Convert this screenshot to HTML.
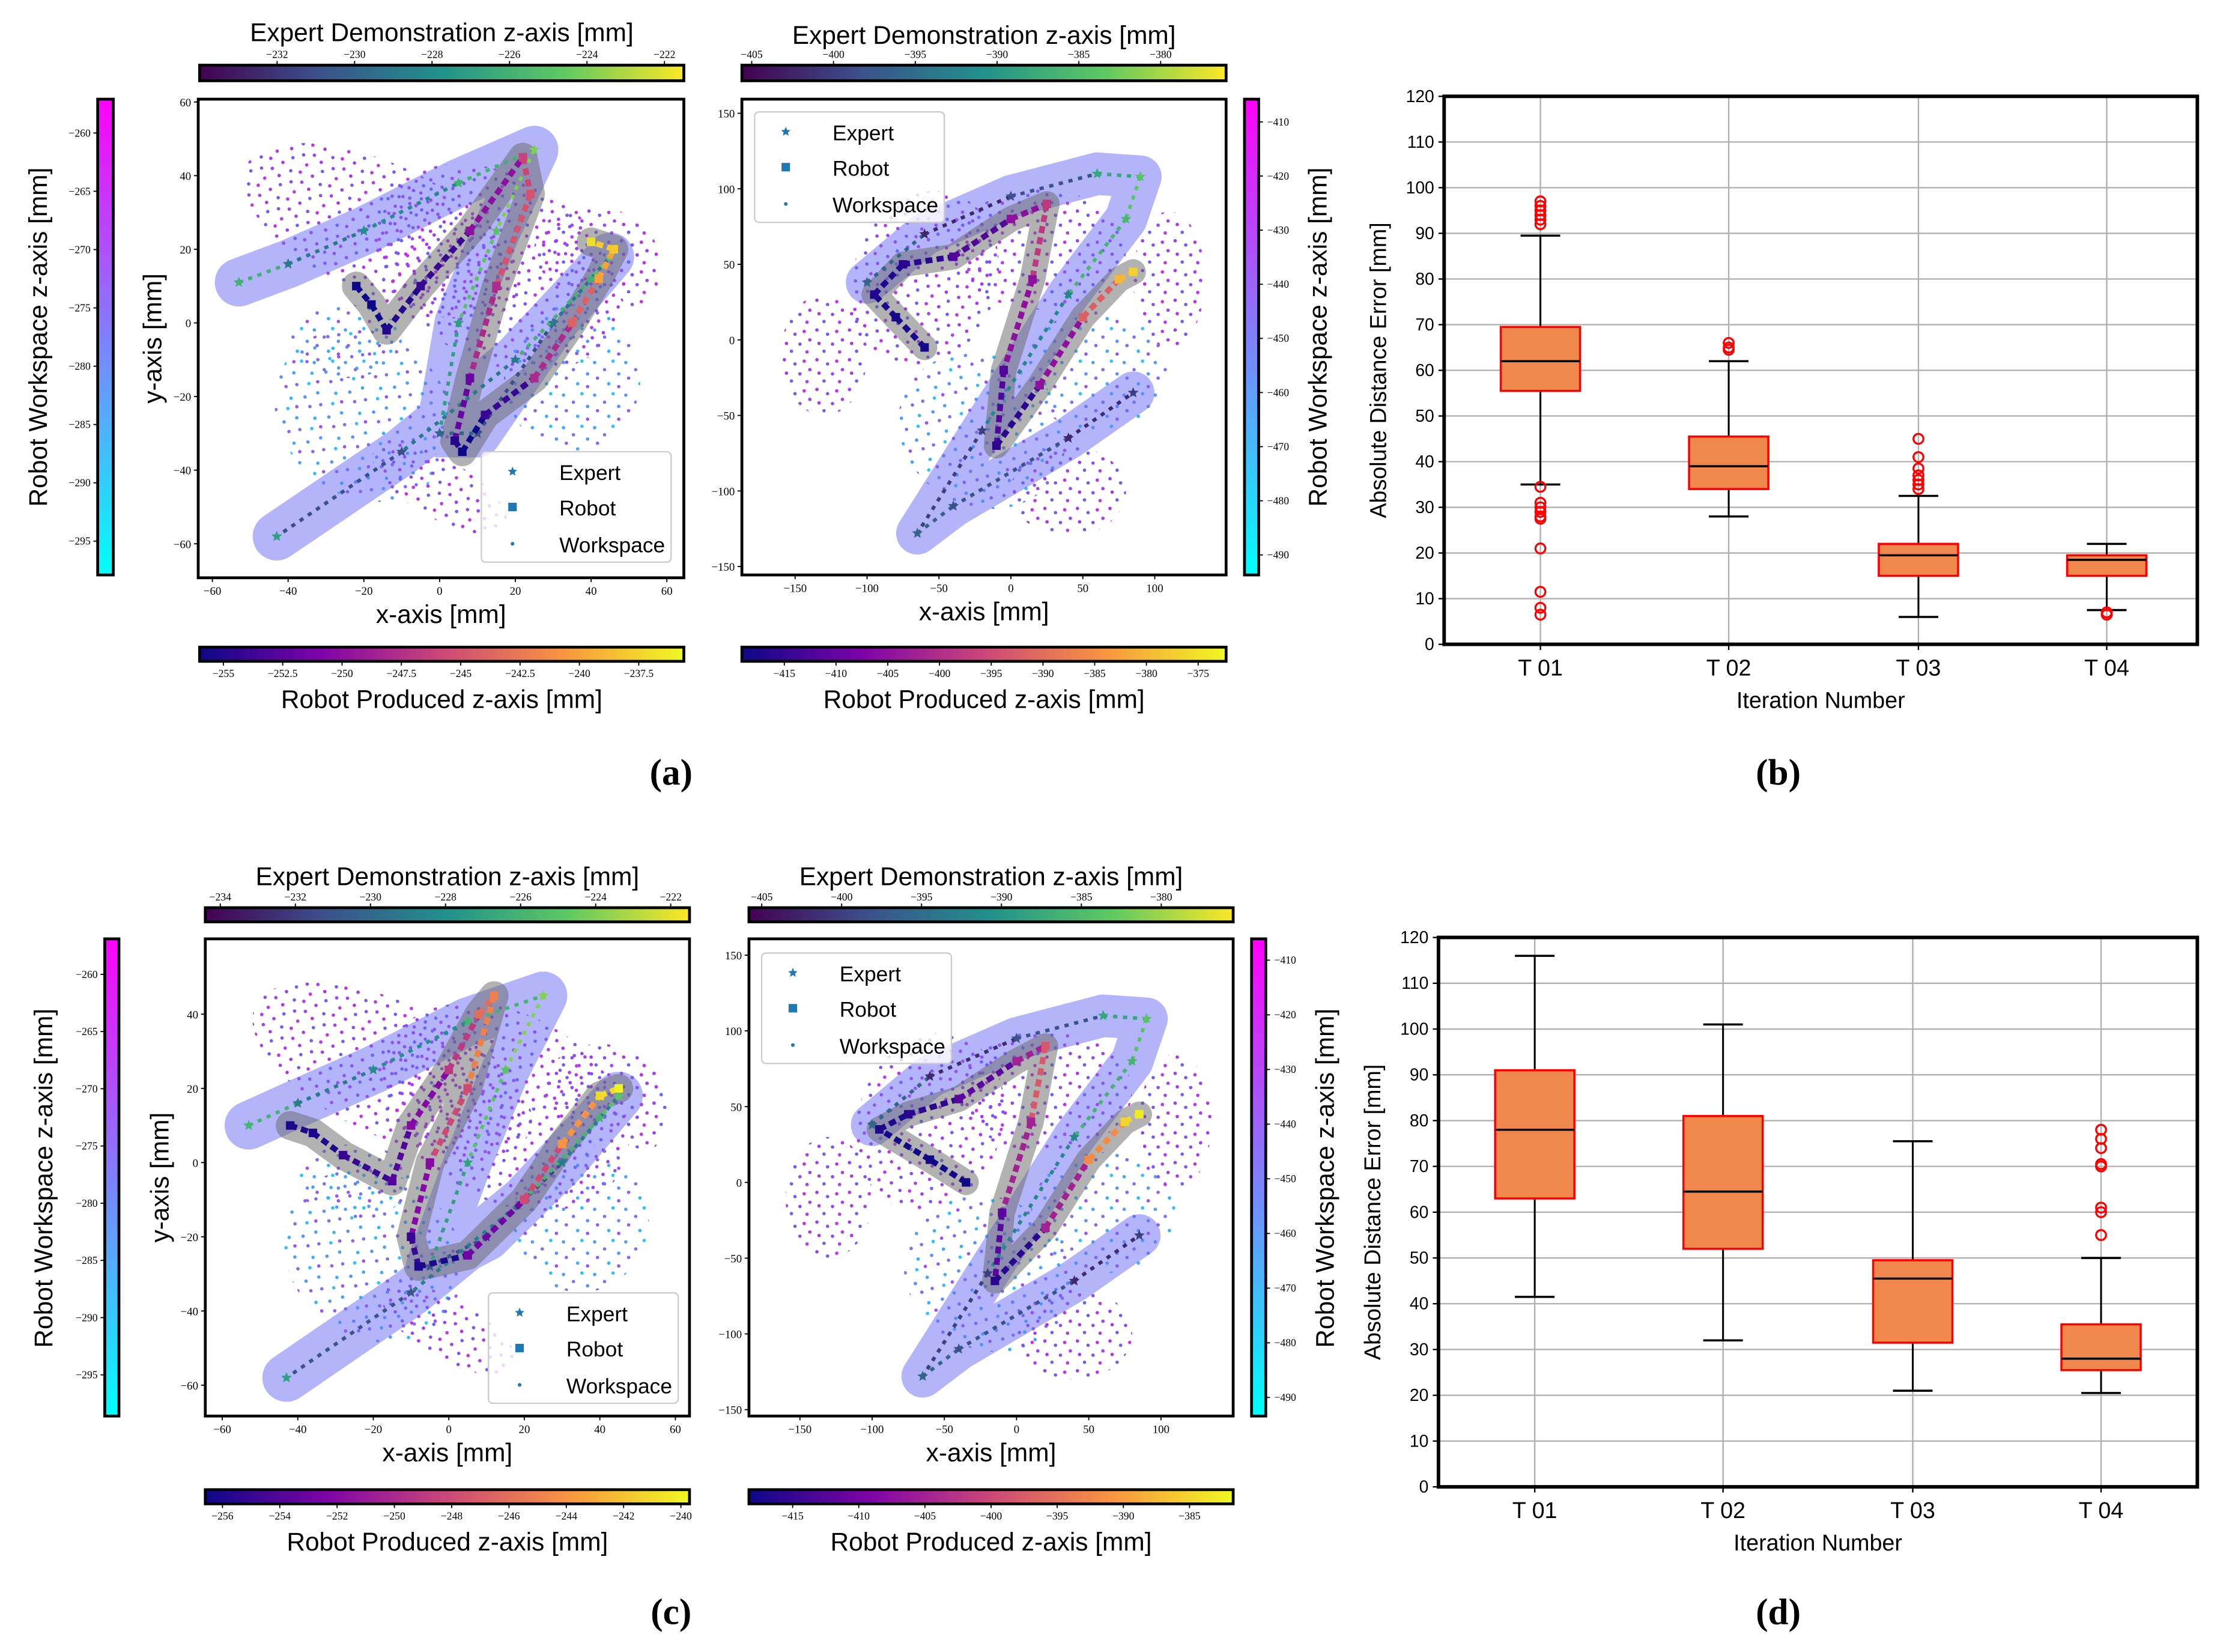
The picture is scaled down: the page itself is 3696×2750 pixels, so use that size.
<!DOCTYPE html>
<html><head><meta charset="utf-8">
<style>
html,body{margin:0;padding:0;background:#fff;}
svg{display:block;font-family:"Liberation Sans",sans-serif;}
</style></head>
<body>
<svg id="fig" xmlns="http://www.w3.org/2000/svg" width="3696" height="2750" viewBox="0 0 1568 1166.6">
<defs>
<linearGradient id="viridis" x1="0" x2="1" y1="0" y2="0">
<stop offset="0" stop-color="#440154"/><stop offset="0.25" stop-color="#3b528b"/><stop offset="0.5" stop-color="#21918c"/><stop offset="0.75" stop-color="#5ec962"/><stop offset="1" stop-color="#fde725"/></linearGradient>
<linearGradient id="plasma" x1="0" x2="1" y1="0" y2="0">
<stop offset="0" stop-color="#0d0887"/><stop offset="0.25" stop-color="#7e03a8"/><stop offset="0.5" stop-color="#cc4778"/><stop offset="0.75" stop-color="#f89540"/><stop offset="1" stop-color="#f0f921"/></linearGradient>
<linearGradient id="cool" x1="0" x2="0" y1="1" y2="0">
<stop offset="0" stop-color="#00ffff"/><stop offset="1" stop-color="#ff00ff"/></linearGradient>
<pattern id="dotsP" width="23" height="21" patternUnits="userSpaceOnUse">
<circle cx="2" cy="2" r="1.2" fill="#9d3df2"/><circle cx="9.5" cy="5" r="1.2" fill="#7a55f5"/><circle cx="3.5" cy="11.5" r="1.2" fill="#b030f0"/><circle cx="16" cy="3" r="1.2" fill="#c030f0"/><circle cx="13" cy="12" r="1.2" fill="#8a4af5"/><circle cx="20" cy="9" r="1.2" fill="#a040f0"/><circle cx="7" cy="17" r="1.2" fill="#6a60f8"/><circle cx="18" cy="17.5" r="1.2" fill="#b838f0"/></pattern>
<pattern id="dotsB" width="22" height="23" patternUnits="userSpaceOnUse">
<circle cx="2" cy="3" r="1.2" fill="#4aa0ff"/><circle cx="9" cy="8" r="1.2" fill="#7a70f5"/><circle cx="15" cy="2" r="1.2" fill="#30c0ff"/><circle cx="19" cy="11" r="1.2" fill="#5a90ff"/><circle cx="4" cy="14" r="1.2" fill="#8a60f5"/><circle cx="12" cy="18" r="1.2" fill="#38b0ff"/><circle cx="19" cy="20" r="1.2" fill="#9a50f5"/></pattern>
</defs>
<g id="root"></g>
</svg>
<script>
// ---------------- Box plot data (b) ----------------
const bCats = ['T 01','T 02','T 03','T 04'];
const bLow  = [35, 28, 6, 7.5];
const bQ1   = [55.5, 34, 15, 15];
const bMed  = [62, 39, 19.5, 18.5];
const bQ3   = [69.5, 45.5, 22, 19.5];
const bHigh = [89.5, 62, 32.5, 22];
const bFliers = [[97,96,95,94,93,92,34.5,31,30,29,28,27.5,21,11.5,8,6.5],[66,65,64.5],[45,41,38.5,37,36,35,34],[7,6.5]];
// ---------------- Box plot data (d) ----------------
const dCats = ['T 01','T 02','T 03','T 04'];
const dLow  = [41.5, 32, 21, 20.5];
const dQ1   = [63, 52, 31.5, 25.5];
const dMed  = [78, 64.5, 45.5, 28];
const dQ3   = [91, 81, 49.5, 35.5];
const dHigh = [116, 101, 75.5, 50];
const dFliers = [[],[],[],[78,76,74,70.5,70,61,60,55]];
const boxTicks = [0,10,20,30,40,50,60,70,80,90,100,110,120];
// ---------------- Scatter data ----------------
const aLExpX = [-53,-40,-20,5,25,15,5,0,10,30,45,40,20,-10,-43];
const aLExpY = [11,16,25,38,47,25,0,-30,-30,0,18,12,-10,-35,-58];
const aLExpZ = [-226,-229,-228,-226,-224,-225,-227,-230,-231,-229,-225,-226,-229,-231,-227];
const aLRobX = [-22,-18,-14,-5,8,22,24,15,8,4,6,12,25,35,42,46,40];
const aLRobY = [10,5,-2,10,25,45,35,10,-15,-32,-35,-25,-15,0,12,20,22];
const aLRobZ = [-256,-256,-255,-254,-250,-246,-245,-248,-252,-255,-256,-254,-248,-244,-240,-238,-237];
const aRExpX = [-100,-60,0,60,90,80,40,-20,-65,-40,40,85];
const aRExpY = [38,70,95,110,108,80,30,-60,-128,-110,-65,-35];
const aRExpZ = [-396,-402,-398,-388,-384,-386,-392,-400,-396,-398,-402,-400];
const aRRobX = [-60,-80,-95,-75,-40,0,25,15,-5,-10,20,50,75,85];
const aRRobY = [-5,15,30,50,55,80,90,40,-20,-70,-30,15,40,45];
const aRRobZ = [-418,-418,-417,-416,-412,-405,-398,-405,-412,-416,-405,-392,-380,-377];
const cLExpX = [-53,-40,-20,5,25,15,5,-5,10,30,45,40,20,-10,-43];
const cLExpY = [10,16,25,38,45,25,0,-28,-20,0,18,12,-10,-35,-58];
const cLExpZ = [-226,-229,-228,-226,-224,-225,-227,-231,-232,-229,-225,-226,-229,-231,-227];
const cLRobX = [-42,-36,-28,-15,-10,0,8,12,5,-5,-10,-8,5,20,30,40,45];
const cLRobY = [10,8,2,-5,10,25,40,45,20,0,-20,-28,-25,-10,5,18,20];
const cLRobZ = [-256,-256,-255,-254,-252,-249,-246,-245,-248,-252,-255,-256,-253,-248,-244,-241,-240];
const cRExpX = [-100,-60,0,60,90,80,40,-20,-65,-40,40,85];
const cRExpY = [38,70,95,110,108,80,30,-60,-128,-110,-65,-35];
const cRExpZ = [-396,-402,-398,-388,-384,-386,-392,-400,-396,-398,-402,-400];
const cRRobX = [-35,-60,-95,-75,-40,0,20,10,-10,-15,20,50,75,85];
const cRRobY = [0,15,35,45,55,80,90,40,-20,-65,-30,15,40,45];
const cRRobZ = [-418,-418,-417,-416,-412,-405,-398,-405,-412,-416,-405,-392,-385,-383];

const NS='http://www.w3.org/2000/svg';
const root=document.getElementById('root');
function mk(tag,attrs,parent){const e=document.createElementNS(NS,tag);for(const k in attrs)e.setAttribute(k,attrs[k]);(parent||root).appendChild(e);return e;}
function txt(x,y,s,size,attrs,name){const e=mk('text',Object.assign({x:x,y:y,'font-size':size,fill:'#000'},attrs||{}));e.textContent=s;


return e;}
function lerpC(stops,t){t=Math.max(0,Math.min(1,t));const n=stops.length-1;const i=Math.min(n-1,Math.floor(t*n));const f=t*n-i;const a=stops[i],b=stops[i+1];
return 'rgb('+[0,1,2].map(k=>Math.round(a[k]+(b[k]-a[k])*f)).join(',')+')';}
const VIR=[[68,1,84],[59,82,139],[33,145,140],[94,201,98],[253,231,37]];
const PLA=[[13,8,135],[126,3,168],[204,71,120],[248,149,64],[240,249,33]];

function colorbar(x,y,w,h,grad,vmin,vmax,ticks,orient,tickSide,name){
  const g=mk('g',{});
  
  
  const r=mk('rect',{x:x,y:y,width:w,height:h,fill:'url(#'+grad+')',stroke:'#000','stroke-width':2},g);
  
  
  ticks.forEach(v=>{
    if(orient==='h'){const px=x+(v-vmin)/(vmax-vmin)*w;
      const ty=tickSide==='top'?y:y+h;
      mk('line',{x1:px,x2:px,y1:ty,y2:tickSide==='top'?ty-3:ty+3,stroke:'#000','stroke-width':0.8},g);
      txt(px,tickSide==='top'?ty-5:ty+11,'\u2212'+Math.abs(v),7.5,{'text-anchor':'middle','font-family':'Liberation Serif'},name+'-tick');
    } else {const py=y+(vmax-v)/(vmax-vmin)*h;
      const tx=tickSide==='left'?x:x+w;
      mk('line',{x1:tx,x2:tickSide==='left'?tx-3:tx+3,y1:py,y2:py,stroke:'#000','stroke-width':0.8},g);
      txt(tickSide==='left'?tx-5:tx+6,py+2.5,'\u2212'+Math.abs(v),7.5,{'text-anchor':tickSide==='left'?'end':'start','font-family':'Liberation Serif'},name+'-tick');
    }
  });
}

function star(cx,cy,r,fill,parent){let p='';for(let i=0;i<10;i++){const a=-Math.PI/2+i*Math.PI/5;const rr=i%2?r*0.45:r;p+=(cx+rr*Math.cos(a)).toFixed(2)+','+(cy+rr*Math.sin(a)).toFixed(2)+' ';}
  return mk('polygon',{points:p,fill:fill},parent);}

function scatter(c){
  const g=mk('g',{});
  
  
  const sx=v=>c.x0+v*c.kx, sy=v=>c.y0-v*c.ky;
  const clip=mk('clipPath',{id:c.name+'-clip'},g);
  mk('rect',{x:c.bx,y:c.by,width:c.bw,height:c.bh},clip);
  const inner=mk('g',{'clip-path':'url(#'+c.name+'-clip)'},g);
  c.clouds.forEach(cl=>{const e=mk('ellipse',{cx:sx(cl[0]),cy:sy(cl[1]),rx:cl[2]*c.kx,ry:cl[3]*c.ky,fill:cl[4]?'url(#dotsB)':'url(#dotsP)',transform:'rotate('+cl[5]+' '+sx(cl[0])+' '+sy(cl[1])+')'},inner);
    
    });
  const ep=c.ex.map((v,i)=>sx(v)+','+sy(c.ey[i])).join(' ');
  const rp=c.rx.map((v,i)=>sx(v)+','+sy(c.ry[i])).join(' ');
  const hull=mk('polyline',{points:ep,fill:'none',stroke:'#6a6af5','stroke-opacity':0.5,'stroke-width':c.hullW,'stroke-linecap':'round','stroke-linejoin':'round'},inner);
  
  
  const gh=mk('polyline',{points:rp,fill:'none',stroke:'#666','stroke-opacity':0.5,'stroke-width':c.hullW*0.6,'stroke-linecap':'round','stroke-linejoin':'round'},inner);
  
  
  for(let i=0;i<c.ex.length-1;i++){const t=(c.ez[i]-c.evmin)/(c.evmax-c.evmin);
    const s=mk('line',{x1:sx(c.ex[i]),y1:sy(c.ey[i]),x2:sx(c.ex[i+1]),y2:sy(c.ey[i+1]),stroke:lerpC(VIR,t),'stroke-width':2.5,'stroke-dasharray':'3 4'},inner);
    
    }
  c.ex.forEach((v,i)=>{const s=star(sx(v),sy(c.ey[i]),4,lerpC(VIR,(c.ez[i]-c.evmin)/(c.evmax-c.evmin)),inner);
    
    });
  for(let i=0;i<c.rx.length-1;i++){const t=(c.rz[i]-c.rvmin)/(c.rvmax-c.rvmin);
    const s=mk('line',{x1:sx(c.rx[i]),y1:sy(c.ry[i]),x2:sx(c.rx[i+1]),y2:sy(c.ry[i+1]),stroke:lerpC(PLA,t),'stroke-width':4,'stroke-dasharray':'5 3'},inner);
    
    }
  c.rx.forEach((v,i)=>{const col=lerpC(PLA,(c.rz[i]-c.rvmin)/(c.rvmax-c.rvmin));const s=mk('rect',{x:sx(v)-3,y:sy(c.ry[i])-3,width:6,height:6,fill:col},inner);
    
    });
  const fr=mk('rect',{x:c.bx,y:c.by,width:c.bw,height:c.bh,fill:'none',stroke:'#000','stroke-width':2},g);
  
  
  c.xt.forEach(v=>{const px=sx(v);if(px<c.bx||px>c.bx+c.bw)return;mk('line',{x1:px,x2:px,y1:c.by+c.bh,y2:c.by+c.bh+3,stroke:'#000','stroke-width':0.8},g);
    txt(px,c.by+c.bh+12,(v<0?'\u2212':'')+Math.abs(v),8,{'text-anchor':'middle','font-family':'Liberation Serif'},'x-tick-label');});
  c.yt.forEach(v=>{const py=sy(v);if(py<c.by||py>c.by+c.bh)return;mk('line',{x1:c.bx,x2:c.bx-3,y1:py,y2:py,stroke:'#000','stroke-width':0.8},g);
    txt(c.bx-5,py+3,(v<0?'\u2212':'')+Math.abs(v),8,{'text-anchor':'end','font-family':'Liberation Serif'},'y-tick-label');});
  txt(c.bx+c.bw/2,c.by+c.bh+32,'x-axis [mm]',18,{'text-anchor':'middle'},'x-axis-title');
  if(c.ylab) txt(0,0,'y-axis [mm]',18,{'text-anchor':'middle',transform:'translate('+(c.bx-26)+','+(c.by+c.bh/2)+') rotate(-90)'},'y-axis-title');
  const L=c.leg;const lg=mk('g',{},g);
  
  
  mk('rect',{x:L[0],y:L[1],width:134,height:78,rx:3,fill:'#fff','fill-opacity':0.8,stroke:'#ccc','stroke-width':1},lg);
  star(L[0]+22,L[1]+14,3.5,'#1f77b4',lg);
  mk('rect',{x:L[0]+19,y:L[1]+36,width:6,height:6,fill:'#1f77b4'},lg);
  mk('circle',{cx:L[0]+22,cy:L[1]+65,r:1.3,fill:'#1f77b4'},lg);
  txt(L[0]+55,L[1]+20,'Expert',15,{},'legend-expert');
  txt(L[0]+55,L[1]+45,'Robot',15,{},'legend-robot');
  txt(L[0]+55,L[1]+71,'Workspace',15,{},'legend-workspace');
}

function boxplot(p){
  const g=mk('g',{});
  
  
  const sy=v=>p.y0-v*p.ky;
  boxTicks.forEach(v=>{const py=sy(v);
    const gl=mk('line',{x1:p.bx,x2:p.bx+p.bw,y1:py,y2:py,stroke:'#b0b0b0','stroke-width':1},g);
    
    
    mk('line',{x1:p.bx,x2:p.bx-4,y1:py,y2:py,stroke:'#000','stroke-width':1},g);
    txt(p.bx-7,py+4,String(v),12,{'text-anchor':'end'},'y-tick-label');});
  p.cats.forEach((c,i)=>{const cx=p.cx[i];
    mk('line',{x1:cx,x2:cx,y1:p.by,y2:p.by+p.bh,stroke:'#b0b0b0','stroke-width':1},g);
    mk('line',{x1:cx,x2:cx,y1:p.by+p.bh,y2:p.by+p.bh+4,stroke:'#000','stroke-width':1},g);
    txt(cx,p.by+p.bh+22,c,16,{'text-anchor':'middle'},'x-tick-label');
    const hw=28;
    const w1=mk('line',{x1:cx,x2:cx,y1:sy(p.lo[i]),y2:sy(p.q1[i]),stroke:'#000','stroke-width':1.3},g);
    
    
    const w2=mk('line',{x1:cx,x2:cx,y1:sy(p.q3[i]),y2:sy(p.hi[i]),stroke:'#000','stroke-width':1.3},g);
    
    
    mk('line',{x1:cx-14,x2:cx+14,y1:sy(p.lo[i]),y2:sy(p.lo[i]),stroke:'#000','stroke-width':1.5},g);
    mk('line',{x1:cx-14,x2:cx+14,y1:sy(p.hi[i]),y2:sy(p.hi[i]),stroke:'#000','stroke-width':1.5},g);
    const b=mk('rect',{x:cx-hw,y:sy(p.q3[i]),width:hw*2,height:sy(p.q1[i])-sy(p.q3[i]),fill:'#f0874d',stroke:'#ff0000','stroke-width':1.5},g);
    
    
    mk('line',{x1:cx-hw,x2:cx+hw,y1:sy(p.med[i]),y2:sy(p.med[i]),stroke:'#000','stroke-width':1.5},g);
    p.fl[i].forEach(v=>{const f=mk('circle',{cx:cx,cy:sy(v),r:3.5,fill:'none',stroke:'#ff0000','stroke-width':1.4},g);
      
      });
  });
  const fr=mk('rect',{x:p.bx,y:p.by,width:p.bw,height:p.bh,fill:'none',stroke:'#000','stroke-width':2.5},g);
  
  
  txt(p.bx+p.bw/2,p.by+p.bh+45,'Iteration Number',16,{'text-anchor':'middle'},'x-axis-title');
  txt(0,0,'Absolute Distance Error [mm]',16,{'text-anchor':'middle',transform:'translate('+(p.bx-41)+','+(p.by+p.bh/2)+') rotate(-90)'},'y-axis-title');
}

const xtL=[-60,-40,-20,0,20,40,60], ytL=[-60,-40,-20,0,20,40,60];
const xtR=[-150,-100,-50,0,50,100], ytR=[-150,-100,-50,0,50,100,150];
const cloudsL=[[-15,25,40,18,0,25],[15,15,35,25,0,30],[-20,-25,25,22,1,40],[35,-15,18,20,1,0],[40,20,15,12,0,0],[-25,-5,15,10,1,0],[0,-45,20,8,0,30],[52,15,6,12,0,0]];
const cloudsR=[[-60,40,50,60,0,20],[20,60,60,40,0,0],[-20,-60,60,50,1,30],[60,-20,50,40,1,0],[-130,-10,30,40,0,0],[110,40,25,45,0,0],[40,-100,40,30,0,0]];

colorbar(141,46,342,11,'viridis',-234,-221.5,[-232,-230,-228,-226,-224,-222],'h','top','expert-colorbar-a-left');
txt(312,29,'Expert Demonstration z-axis [mm]',18,{'text-anchor':'middle'},'expert-colorbar-title');
colorbar(141,457,342,10,'plasma',-256,-235.6,[-255,-252.5,-250,-247.5,-245,-242.5,-240,-237.5],'h','bottom','robot-colorbar-a-left');
txt(312,500,'Robot Produced z-axis [mm]',18,{'text-anchor':'middle'},'robot-colorbar-title');
colorbar(69,70,11,336,'cool',-297.9,-257.1,[-260,-265,-270,-275,-280,-285,-290,-295],'v','left','workspace-colorbar-a-left');
txt(0,0,'Robot Workspace z-axis [mm]',18,{'text-anchor':'middle',transform:'translate(33,238) rotate(-90)'},'workspace-colorbar-title');
scatter({name:'scatter-a-left',bx:140,by:70,bw:343,bh:338,x0:310.5,kx:2.675,y0:228,ky:2.6,ex:aLExpX,ey:aLExpY,ez:aLExpZ,evmin:-234,evmax:-221.5,rx:aLRobX,ry:aLRobY,rz:aLRobZ,rvmin:-256,rvmax:-235.6,xt:xtL,yt:ytL,ylab:true,leg:[340,319],hullW:34,clouds:cloudsL});

colorbar(524,46,342,11,'viridis',-405.6,-376,[-405,-400,-395,-390,-385,-380],'h','top','expert-colorbar-a-right');
txt(695,31,'Expert Demonstration z-axis [mm]',18,{'text-anchor':'middle'},'expert-colorbar-title');
colorbar(524,457,342,10,'plasma',-419.1,-372.3,[-415,-410,-405,-400,-395,-390,-385,-380,-375],'h','bottom','robot-colorbar-a-right');
txt(695,500,'Robot Produced z-axis [mm]',18,{'text-anchor':'middle'},'robot-colorbar-title');
colorbar(879,70,10,336,'cool',-493.7,-405.8,[-410,-420,-430,-440,-450,-460,-470,-480,-490],'v','right','workspace-colorbar-a-right');
txt(0,0,'Robot Workspace z-axis [mm]',18,{'text-anchor':'middle',transform:'translate(937,238) rotate(-90)'},'workspace-colorbar-title');
scatter({name:'scatter-a-right',bx:524,by:70,bw:342,bh:336,x0:714,kx:1.016,y0:240,ky:1.067,ex:aRExpX,ey:aRExpY,ez:aRExpZ,evmin:-405.6,evmax:-376,rx:aRRobX,ry:aRRobY,rz:aRRobZ,rvmin:-419.1,rvmax:-372.3,xt:xtR,yt:ytR,ylab:false,leg:[533,79],hullW:30,clouds:cloudsR});

colorbar(145,641,342,10,'viridis',-234.4,-221.5,[-234,-232,-230,-228,-226,-224,-222],'h','top','expert-colorbar-c-left');
txt(316,625,'Expert Demonstration z-axis [mm]',18,{'text-anchor':'middle'},'expert-colorbar-title');
colorbar(145,1052,342,10,'plasma',-256.6,-239.7,[-256,-254,-252,-250,-248,-246,-244,-242,-240],'h','bottom','robot-colorbar-c-left');
txt(316,1095,'Robot Produced z-axis [mm]',18,{'text-anchor':'middle'},'robot-colorbar-title');
colorbar(74,663,10,337,'cool',-298.6,-256.9,[-260,-265,-270,-275,-280,-285,-290,-295],'v','left','workspace-colorbar-c-left');
txt(0,0,'Robot Workspace z-axis [mm]',18,{'text-anchor':'middle',transform:'translate(37,832) rotate(-90)'},'workspace-colorbar-title');
scatter({name:'scatter-c-left',bx:145,by:663,bw:342,bh:337,x0:317,kx:2.667,y0:821,ky:2.62,ex:cLExpX,ey:cLExpY,ez:cLExpZ,evmin:-234.4,evmax:-221.5,rx:cLRobX,ry:cLRobY,rz:cLRobZ,rvmin:-256.6,rvmax:-239.7,xt:xtL,yt:[-60,-40,-20,0,20,40],ylab:true,leg:[345,913],hullW:34,clouds:cloudsL});

colorbar(529,641,342,10,'viridis',-405.8,-375.5,[-405,-400,-395,-390,-385,-380],'h','top','expert-colorbar-c-right');
txt(700,625,'Expert Demonstration z-axis [mm]',18,{'text-anchor':'middle'},'expert-colorbar-title');
colorbar(529,1052,342,10,'plasma',-418.3,-381.7,[-415,-410,-405,-400,-395,-390,-385],'h','bottom','robot-colorbar-c-right');
txt(700,1095,'Robot Produced z-axis [mm]',18,{'text-anchor':'middle'},'robot-colorbar-title');
colorbar(884,663,10,337,'cool',-493.4,-406.1,[-410,-420,-430,-440,-450,-460,-470,-480,-490],'v','right','workspace-colorbar-c-right');
txt(0,0,'Robot Workspace z-axis [mm]',18,{'text-anchor':'middle',transform:'translate(942,832) rotate(-90)'},'workspace-colorbar-title');
scatter({name:'scatter-c-right',bx:529,by:663,bw:342,bh:337,x0:718,kx:1.02,y0:835,ky:1.07,ex:cRExpX,ey:cRExpY,ez:cRExpZ,evmin:-405.8,evmax:-375.5,rx:cRRobX,ry:cRRobY,rz:cRRobZ,rvmin:-418.3,rvmax:-381.7,xt:xtR,yt:ytR,ylab:false,leg:[538,673],hullW:30,clouds:cloudsR});

boxplot({name:'boxplot-b',bx:1020,by:68,bw:532,bh:387,y0:455,ky:3.225,cx:[1088,1221,1355,1488],cats:bCats,lo:bLow,q1:bQ1,med:bMed,q3:bQ3,hi:bHigh,fl:bFliers});
boxplot({name:'boxplot-d',bx:1016,by:662,bw:536,bh:388,y0:1050,ky:3.233,cx:[1084,1217,1351,1484],cats:dCats,lo:dLow,q1:dQ1,med:dMed,q3:dQ3,hi:dHigh,fl:dFliers});

txt(474,554,'(a)',26,{'text-anchor':'middle','font-family':'Liberation Serif','font-weight':'bold'},'panel-label-a');
txt(1256,554,'(b)',26,{'text-anchor':'middle','font-family':'Liberation Serif','font-weight':'bold'},'panel-label-b');
txt(474,1147,'(c)',26,{'text-anchor':'middle','font-family':'Liberation Serif','font-weight':'bold'},'panel-label-c');
txt(1256,1147,'(d)',26,{'text-anchor':'middle','font-family':'Liberation Serif','font-weight':'bold'},'panel-label-d');
</script>
</body></html>
